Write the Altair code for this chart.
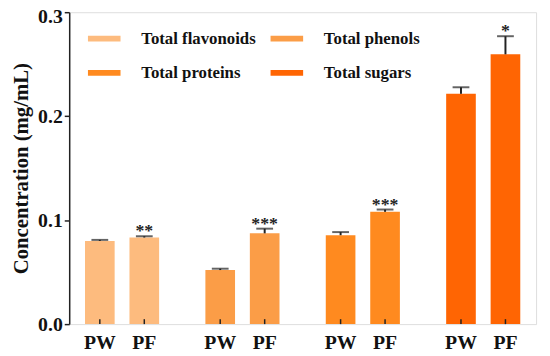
import altair as alt
import pandas as pd

groups = ["Total flavonoids", "Total phenols", "Total proteins", "Total sugars"]
legend_order = ["Total flavonoids", "Total proteins", "Total phenols", "Total sugars"]
samples = ["PW", "PF"]
values_pw = [0.080, 0.052, 0.0855, 0.2215]
values_pf = [0.0833, 0.0873, 0.108, 0.2595]
err_pw = [0.001, 0.0013, 0.003, 0.0063]
err_pf = [0.0012, 0.0045, 0.0022, 0.0174]
stars_pw = ["", "", "", ""]
stars_pf = ["**", "***", "***", "*"]
colors = ["#FDBB7E", "#FB9D47", "#FF8A1F", "#FF6503"]

rows = []
for i, g in enumerate(groups):
    rows.append({"group": g, "sample": "PW", "value": values_pw[i], "err": err_pw[i], "star": stars_pw[i]})
    rows.append({"group": g, "sample": "PF", "value": values_pf[i], "err": err_pf[i], "star": stars_pf[i]})
df = pd.DataFrame(rows)
df["top"] = df["value"] + df["err"]

FONT = "Liberation Serif"
H = 316

base = alt.Chart(df).encode(
    x=alt.X("group:N", sort=groups,
            scale=alt.Scale(paddingInner=0.3, paddingOuter=0.0891), axis=None),
    xOffset=alt.XOffset("sample:N", sort=samples,
                        scale=alt.Scale(paddingInner=0.3333, paddingOuter=0.1142)),
)

yscale = alt.Scale(domain=[0, 0.3], nice=False, zero=True)

bars = base.mark_bar().encode(
    y=alt.Y("value:Q", scale=yscale,
            axis=alt.Axis(values=[0, 0.1, 0.2, 0.3], format=".1f", grid=False,
                          labelFont=FONT, labelFontSize=20, labelFontWeight="bold",
                          labelColor="#111", labelPadding=2,
                          labelOffset=alt.condition("datum.value > 0.25", alt.value(4), alt.value(0)),
                          tickSize=5, tickWidth=1.5, tickColor="#222",
                          domainWidth=1.5, domainColor="#222",
                          title="Concentration (mg/mL)", titleFont=FONT,
                          titleFontSize=21, titleFontWeight="bold", titleColor="#111",
                          titlePadding=6)),
    color=alt.Color("group:N", sort=groups,
                    scale=alt.Scale(domain=groups, range=colors),
                    legend=alt.Legend(orient="none", legendX=19, legendY=10, columns=2,
                                      title=None, values=legend_order,
                                      symbolType="M-1,-0.18L1,-0.18L1,0.18L-1,0.18Z",
                                      symbolSize=1089, symbolStrokeWidth=0,
                                      labelFont=FONT, labelFontSize=17,
                                      labelFontWeight="bold", labelColor="#111",
                                      labelOffset=21, columnPadding=14, rowPadding=10,
                                      labelLimit=300, padding=0)),
)

err_rule = base.mark_rule(color="#222", strokeWidth=2).encode(
    y=alt.Y("value:Q", scale=yscale), y2="top:Q")

caps = base.mark_tick(color="#222", thickness=2, size=17, orient="horizontal").encode(
    y=alt.Y("top:Q", scale=yscale))

stars = base.mark_text(font=FONT, fontSize=18, fontWeight="bold", color="#222",
                       baseline="alphabetic", dy=0).encode(
    y=alt.Y("top:Q", scale=yscale), text="star:N")

xlabels = base.mark_text(font=FONT, fontSize=20, fontWeight="bold", color="#111",
                         baseline="alphabetic").encode(
    y=alt.value(H + 25), text="sample:N")

xticks = base.mark_rule(color="#222", strokeWidth=1.5).encode(
    y=alt.value(H), y2=alt.value(H - 5))

chart = alt.layer(bars, err_rule, caps, stars, xticks, xlabels).properties(
    width=473, height=H,
    autosize=alt.AutoSizeParams(type="none"),
    padding={"left": 62, "top": 2, "right": 6, "bottom": 26},
).configure_view(stroke="#222", strokeWidth=1.5).configure(background="white")

chart.save("out.html", embed_options={"renderer": "svg", "actions": False})
